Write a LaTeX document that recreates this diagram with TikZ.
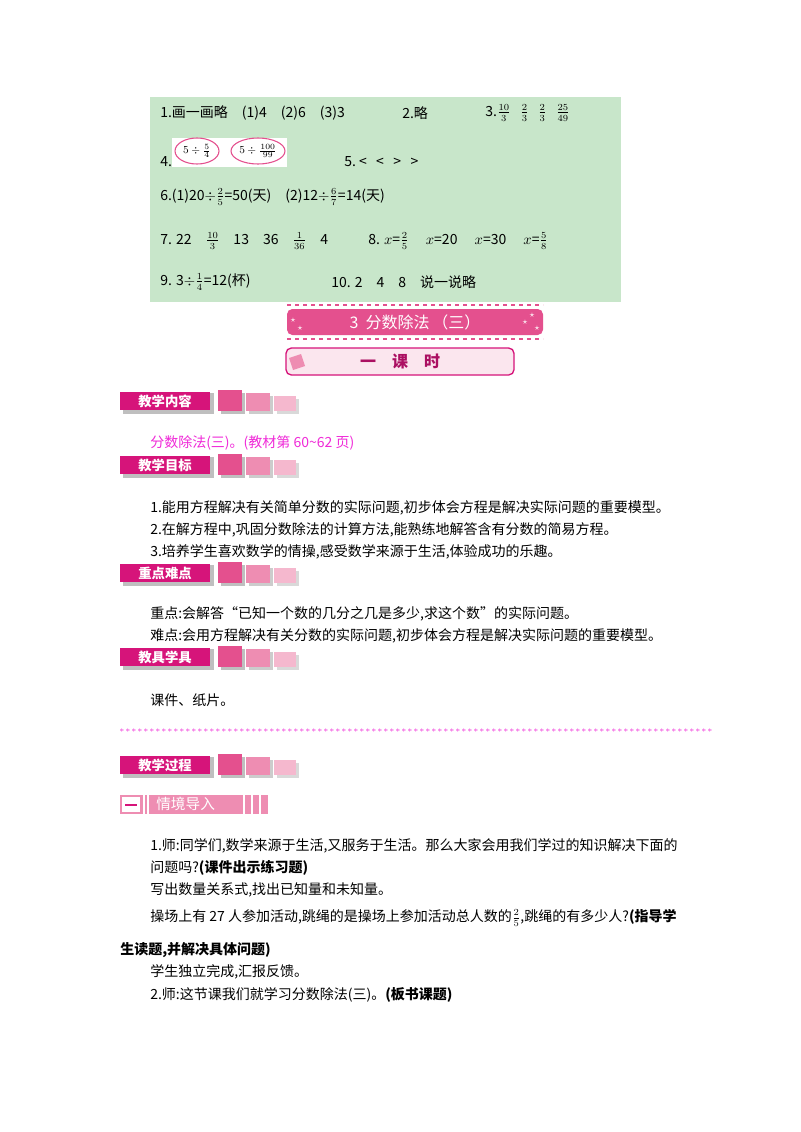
\documentclass[tikz,border=0pt]{standalone}
\usepackage{fontspec}
\setmainfont{Liberation Sans}
\newfontfamily\cjk{Noto Sans CJK SC}
\definecolor{grn}{HTML}{C8E6CA}
\definecolor{mag}{HTML}{D6147A}
\definecolor{pk1}{HTML}{E4508E}
\definecolor{pk2}{HTML}{EE8DB2}
\definecolor{pk3}{HTML}{F5B8CE}
\definecolor{txtmag}{HTML}{F02AD8}
\begin{document}
\begin{tikzpicture}[x=0.75pt,y=-0.75pt,
  body/.style={anchor=west,inner sep=0,font=\cjk\fontsize{10.5pt}{12pt}\selectfont},
  ans/.style={anchor=west,inner sep=0,font=\cjk\fontsize{10.5pt}{11pt}\selectfont},
  hdr/.style={fill=mag,text=white,minimum width=68pt,minimum height=14pt,inner sep=0,font=\cjk\bfseries\fontsize{10pt}{11pt}\selectfont},
  sq/.style={minimum size=16pt,inner sep=0}]
\useasboundingbox (0,0) rectangle (800,1132);
\fill[white] (0,0) rectangle (800,1132);
% green answer box
\fill[grn] (150,97) rectangle (621,302);
\node[ans] (a1) at (160,113) {1.画一画略\quad (1)4\quad (2)6\quad (3)3};
\node[ans] (a2) at (402,113) {2.略};
\node[ans] (a3) at (485,113) {3.$\frac{10}{3}$\ \ \ $\frac{2}{3}$\ \ \ $\frac{2}{3}$\ \ \ $\frac{25}{49}$};
\node[ans] (a4) at (160,162) {4.};
\fill[white] (172,138) rectangle (287,167);
\draw[pk1,thick] (197,151) ellipse (22 and 13);
\node[inner sep=0] (e1) at (197,151) {\fontsize{8pt}{9pt}\selectfont$5\div\frac{5}{4}$};
\draw[pk1,thick] (258,151) ellipse (27 and 13);
\node[inner sep=0] (e2) at (258,151) {\fontsize{8pt}{9pt}\selectfont$5\div\frac{100}{99}$};
\node[ans] (a5) at (344,162) {5.\ <\ \ \ <\ \ \ >\ \ \ >};
\node[ans] (a6) at (160,197) {6.(1)20$\div\frac{2}{5}$=50(天)\quad (2)12$\div\frac{6}{7}$=14(天)};
\node[ans] (a7) at (160,241) {7. 22\quad $\frac{10}{3}$\quad 13\quad 36\quad $\frac{1}{36}$\quad 4};
\node[ans] (a8) at (368,241) {8. $x$=$\frac{2}{5}$\quad\ $x$=20\quad\ $x$=30\quad\ $x$=$\frac{5}{8}$};
\node[ans] (a9) at (160,282) {9. 3$\div\frac{1}{4}$=12(杯)};
\node[ans] (a10) at (331,282) {10. 2\quad 4\quad 8\quad 说一说略};
% title banner
\draw[pk1,dashed,line width=1.2pt] (287,305) -- (543,305);
\draw[pk1,dashed,line width=1.2pt] (287,339) -- (543,339);
\fill[pk1,rounded corners=4pt] (287,309) rectangle (543,335);
\node[text=white,inner sep=0,font=\cjk\itshape\fontsize{12pt}{13pt}\selectfont] (t1) at (415,322) {3\ \ 分数除法\,（三）};
\foreach \p in {(293,320),(300,328),(532,315),(537,328),(525,322)}
  \node[text=white,inner sep=0,font=\fontsize{7pt}{7pt}\selectfont] at \p {$\star$};
% lesson box
\draw[mag,line width=1pt,fill=pk3!35,rounded corners=4pt] (286,348) rectangle (514,375);
\fill[pk2] (289,358) -- (301,354) -- (305,366) -- (293,370) -- cycle;
\node[text=mag!80!black,inner sep=0,font=\cjk\bfseries\fontsize{12pt}{13pt}\selectfont] (t2) at (400,361) {一\quad 课\quad 时};
% section headers
\foreach \y/\t/\n in {401/教学内容/h1,465/教学目标/h2,573/重点难点/h3,657/教具学具/h4,765/教学过程/h5}{
  \fill[gray!50] (123,\y-8) rectangle (214,\y+13);
  \node[hdr] (\n) at (165,\y) {\t};
  \fill[gray!50] (221,\y-8) rectangle (245,\y+13);
  \fill[pk1] (218,\y-11) rectangle (242,\y+10);
  \fill[gray!40] (249,\y-5) rectangle (273,\y+13);
  \fill[pk2] (246,\y-8) rectangle (270,\y+10);
  \fill[gray!30] (277,\y-2) rectangle (299,\y+13);
  \fill[pk3] (274,\y-5) rectangle (296,\y+10);
}
\node[body,text=txtmag] (c1) at (150,443) {分数除法(三)。(教材第 60\textasciitilde62 页)};
\node[body] (g1) at (150,508) {1.能用方程解决有关简单分数的实际问题,初步体会方程是解决实际问题的重要模型。};
\node[body] (g2) at (150,530) {2.在解方程中,巩固分数除法的计算方法,能熟练地解答含有分数的简易方程。};
\node[body] (g3) at (150,552) {3.培养学生喜欢数学的情操,感受数学来源于生活,体验成功的乐趣。};
\node[body] (k1) at (150,614) {重点:会解答“已知一个数的几分之几是多少,求这个数”的实际问题。};
\node[body] (k2) at (150,636) {难点:会用方程解决有关分数的实际问题,初步体会方程是解决实际问题的重要模型。};
\node[body] (m1) at (150,700) {课件、纸片。};
% star line
\foreach \i in {0,...,98}
  \node[text=txtmag,inner sep=0,font=\fontsize{6pt}{6pt}\selectfont] at (122+\i*6,731) {$\ast$};
% section one
\fill[pk2] (120,795) rectangle (268,814);
\fill[white] (122,797) rectangle (140,812);
\draw[mag,line width=1.5pt] (125,805) -- (137,805);
\foreach \x in {144,148,244,252,260} \draw[white,line width=0.8pt] (\x,795) -- (\x,814);
\node[text=white,inner sep=0,anchor=west,font=\cjk\fontsize{11pt}{12pt}\selectfont] (s1) at (156,804) {情境导入};
\node[body] (p1) at (150,846) {1.师:同学们,数学来源于生活,又服务于生活。那么大家会用我们学过的知识解决下面的};
\node[body] (p2) at (150,868) {问题吗?\textbf{(课件出示练习题)}};
\node[body] (p3) at (150,890) {写出数量关系式,找出已知量和未知量。};
\node[body] (p4) at (150,918) {操场上有 27 人参加活动,跳绳的是操场上参加活动总人数的$\frac{2}{5}$,跳绳的有多少人?\textbf{(指导学}};
\node[body] (p5) at (120,950) {\textbf{生读题,并解决具体问题)}};
\node[body] (p6) at (150,972) {学生独立完成,汇报反馈。};
\node[body] (p7) at (150,995) {2.师:这节课我们就学习分数除法(三)。\textbf{(板书课题)}};
\end{tikzpicture}
\end{document}
